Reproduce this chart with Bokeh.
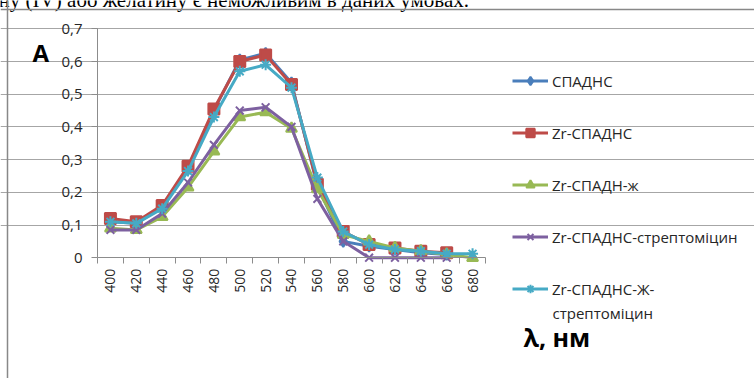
import math
from bokeh.plotting import figure
from bokeh.models import Range1d, FixedTicker, Legend, LegendItem, Label, Span
from bokeh.embed import file_html
from bokeh.resources import INLINE

NAN = float("nan")

wavelengths = [400, 420, 440, 460, 480, 500, 520, 540, 560, 580, 600, 620, 640, 660, 680]

series_names = ["СПАДНС", "Zr-СПАДНС", "Zr-СПАДН-ж", "Zr-СПАДНС-стрептоміцин", "Zr-СПАДНС-Ж-"]
last_name_line2 = "стрептоміцин"

spadns = [0.11, 0.105, 0.155, 0.27, 0.45, 0.605, 0.625, 0.535, 0.22, 0.05, 0.035, 0.025, 0.015, 0.01, NAN]
zr_spadns = [0.12, 0.11, 0.16, 0.28, 0.455, 0.60, 0.62, 0.53, 0.225, 0.08, 0.04, 0.03, 0.02, 0.015, NAN]
zr_spadn_zh = [0.09, 0.085, 0.125, 0.215, 0.325, 0.43, 0.445, 0.395, 0.21, 0.07, 0.05, 0.03, 0.02, 0.01, 0.0]
zr_spadns_strep = [0.085, 0.085, 0.135, 0.23, 0.345, 0.45, 0.46, 0.40, 0.18, 0.05, 0.0, 0.0, 0.0, 0.0, NAN]
zr_spadns_zh_strep = [0.11, 0.105, 0.15, 0.265, 0.43, 0.57, 0.59, 0.52, 0.245, 0.08, 0.04, 0.025, 0.02, 0.012, 0.012]

y_ticks = [0, 0.1, 0.2, 0.3, 0.4, 0.5, 0.6, 0.7]
y_tick_labels = ["0", "0,1", "0,2", "0,3", "0,4", "0,5", "0,6", "0,7"]

y_title = "A"
x_title = "λ, нм"
page_text = "ну (IV) або желатину є неможливим в даних умовах."

colors = ["#4A7EBB", "#BE4B48", "#98B954", "#7D60A0", "#46AAC5"]
markers = ["diamond", "square", "triangle", "x", "asterisk"]
all_series = [spadns, zr_spadns, zr_spadn_zh, zr_spadns_strep, zr_spadns_zh_strep]

FONT = "Open Sans"
TEXT = "#262626"
AXIS = "#8c8c8c"

W, H = 754, 378
# layout in pixels: plot area left/right edge and y positions of 0 and 0.7
AX_LEFT, AX_RIGHT = 97.0, 485.0
Y0_PX, Y7_PX = 257.2, 28.3

step = wavelengths[1] - wavelengths[0]
x_lo = wavelengths[0] - step / 2
x_hi = wavelengths[-1] + step / 2
px_per_x = (AX_RIGHT - AX_LEFT) / (x_hi - x_lo)
px_per_y = (Y0_PX - Y7_PX) / y_ticks[-1]

x_start = x_lo - AX_LEFT / px_per_x
x_end = x_start + W / px_per_x
y_end = Y0_PX / px_per_y
y_start = -(H - Y0_PX) / px_per_y

def xd(px):
    return x_start + px / px_per_x

def yd(py):
    return (Y0_PX - py) / px_per_y

p = figure(width=W, height=H, output_backend="svg", toolbar_location=None,
           x_range=Range1d(x_start, x_end), y_range=Range1d(y_start, y_end),
           min_border=0)
p.outline_line_color = None
p.background_fill_color = "white"
p.border_fill_color = "white"

# page text (cut by the top edge) and page frame lines
p.add_layout(Label(x=xd(-2), y=yd(-1), text=page_text, text_font="Liberation Serif", text_font_size="21px",
                   text_color="black", text_align="left", text_baseline="alphabetic"))
p.add_layout(Span(location=xd(7), dimension="height", line_color="#888888", line_width=1.5))
p.add_layout(Span(location=yd(9), dimension="width", line_color="#888888", line_width=1.5))

# axes
p.xaxis.fixed_location = 0
p.xaxis.bounds = (x_lo, x_hi)
p.xaxis.ticker = FixedTicker(ticks=wavelengths,
                             minor_ticks=[w - step / 2 for w in wavelengths] + [x_hi])
p.xaxis.axis_line_color = AXIS
p.xaxis.major_tick_line_color = None
p.xaxis.major_tick_out = 6
p.xaxis.major_tick_in = 0
p.xaxis.minor_tick_line_color = AXIS
p.xaxis.minor_tick_out = 6
p.xaxis.minor_tick_in = 0
p.xaxis.major_label_orientation = math.pi / 2
p.xaxis.major_label_standoff = 5
p.xaxis.major_label_text_font = FONT
p.xaxis.major_label_text_font_size = "14px"
p.xaxis.major_label_text_color = TEXT

p.yaxis.fixed_location = x_lo
p.yaxis.bounds = (0, y_ticks[-1])
p.yaxis.ticker = FixedTicker(ticks=y_ticks, minor_ticks=[])
p.yaxis.major_label_overrides = {t: l for t, l in zip(y_ticks, y_tick_labels)}
p.yaxis.axis_line_color = AXIS
p.yaxis.major_tick_line_color = AXIS
p.yaxis.major_tick_out = 6
p.yaxis.major_tick_in = 0
p.yaxis.major_label_standoff = 9
p.yaxis.major_label_text_font = FONT
p.yaxis.major_label_text_font_size = "15px"
p.yaxis.major_label_text_color = TEXT

p.xgrid.grid_line_color = None
p.ygrid.ticker = FixedTicker(ticks=y_ticks[1:])
p.ygrid.bounds = (x_lo, x_hi)
p.ygrid.grid_line_color = "#a6a6a6"
p.ygrid.grid_line_width = 1

items = []
for name, vals, c, m in zip(series_names, all_series, colors, markers):
    lr = p.line(wavelengths, vals, line_color=c, line_width=3)
    sr = p.scatter(wavelengths, vals, marker=m, size=11, fill_color=c, line_color=c, line_width=2)
    items.append(LegendItem(label=name, renderers=[lr, sr]))

legend = Legend(items=items, location=(512, 79), padding=0, margin=0,
                glyph_width=36, glyph_height=21, label_height=21, spacing=31,
                label_standoff=4, label_text_font=FONT, label_text_font_size="15px",
                label_text_color=TEXT, border_line_color=None, background_fill_alpha=0)
p.add_layout(legend, "center")

p.add_layout(Label(x=xd(552), y=yd(312), text=last_name_line2, text_font=FONT, text_font_size="15px",
                   text_color=TEXT, text_align="left", text_baseline="middle"))
p.add_layout(Label(x=xd(32), y=yd(52), text=y_title, text_font=FONT, text_font_size="24px",
                   text_font_style="bold", text_color="black", text_align="left", text_baseline="alphabetic"))
p.add_layout(Label(x=xd(523), y=yd(336), text=x_title, text_font=FONT, text_font_size="25px",
                   text_font_style="bold", text_color="black", text_align="left", text_baseline="alphabetic"))

open("out.html", "w").write(file_html(p, INLINE))
